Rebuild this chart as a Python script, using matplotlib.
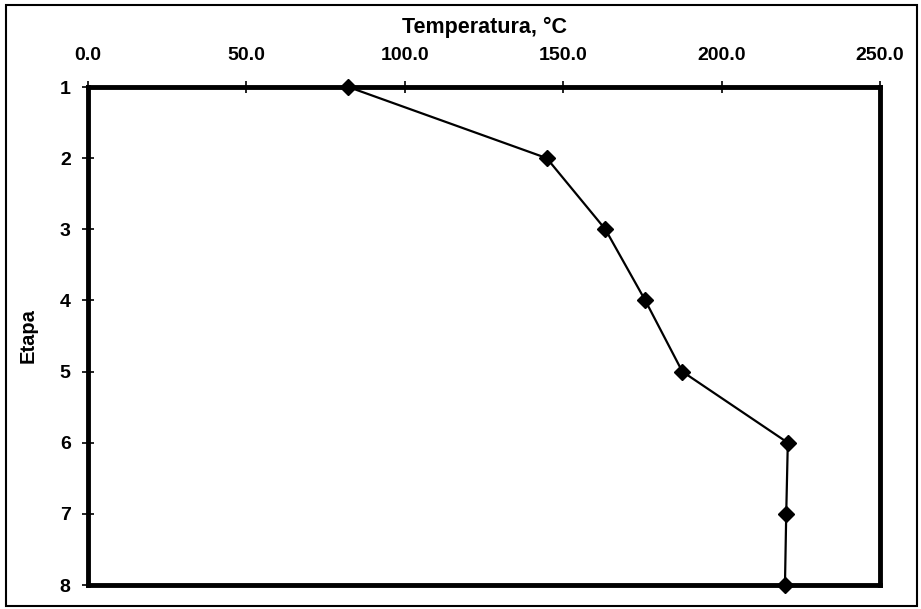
import matplotlib
matplotlib.use("Agg")
import matplotlib.pyplot as plt
from matplotlib.patches import Rectangle

# Temperatura por etapa
etapa = [1, 2, 3, 4, 5, 6, 7, 8]
temperatura = [82.2, 144.8, 163.3, 175.9, 187.6, 220.9, 220.4, 220.0]
xticks = [0, 50, 100, 150, 200, 250]

plt.rcParams['font.family'] = ['Liberation Sans', 'DejaVu Sans']

fig = plt.figure(figsize=(9.21, 6.09), dpi=100)
W, H = 921, 609
ax = fig.add_axes([88 / W, 1 - 585 / H, (880 - 88) / W, (585 - 87) / H])

ax.plot(temperatura, etapa, color='black', lw=1.6, marker='D', ms=8.5,
        clip_on=False, zorder=5)

ax.set_xlim(0, 250)
ax.set_ylim(8, 1)
ax.set_xticks(xticks)
ax.set_xticklabels([f"{v:.1f}" for v in xticks])
ax.set_yticks(etapa)
ax.xaxis.tick_top()
ax.xaxis.set_label_position('top')
ax.tick_params(axis='both', direction='inout', length=9, width=1.2,
               labelsize=14)
ax.tick_params(axis='x', pad=12)
ax.tick_params(axis='y', pad=8)
for lab in ax.get_xticklabels() + ax.get_yticklabels():
    lab.set_fontweight('bold')

for s in ax.spines.values():
    s.set_linewidth(3.5)

ax.set_xlabel("Temperatura, °C", fontsize=15.5, fontweight='bold', labelpad=10)
ax.set_ylabel("Etapa", fontsize=14.5, fontweight='bold', labelpad=16)

# marco exterior del gráfico
fig.patches.append(Rectangle((6 / W, 1 - 606 / H), (917 - 6) / W, (606 - 5) / H,
                             transform=fig.transFigure, fill=False,
                             edgecolor='black', lw=1.5))

fig.savefig('out.png', dpi=100)
